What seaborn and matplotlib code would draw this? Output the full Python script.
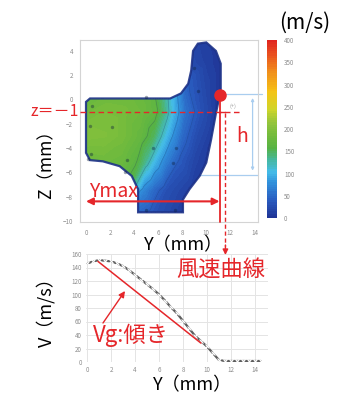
import numpy as np
import matplotlib
matplotlib.use("Agg")
import matplotlib.pyplot as plt
import matplotlib.tri as mtri
import seaborn as sns
from matplotlib.colors import LinearSegmentedColormap
from matplotlib.path import Path
from matplotlib.patches import PathPatch

# ---------------- data ----------------
# nozzle outlet outline in the Y-Z plane (mm)
outline_y = [0.33, 7.0, 7.9, 8.5, 8.75, 8.9, 9.3, 10.0, 10.8, 11.2, 11.2, 10.8, 10.4,
             10.0, 9.45, 8.6, 8.06, 8.06, 4.33, 4.33, 3.8, 2.8, 1.4, 0.33, 0.0, 0.0]
outline_z = [0.08, 0.08, 0.5, 1.3, 2.4, 4.0, 4.6, 4.7, 4.0, 2.95, 0.76, -1.15, -3.3,
             -5.2, -6.3, -7.4, -8.25, -9.3, -9.3, -7.4, -6.3, -5.5, -5.1, -5.0, -4.4, -0.2]

# measured jet velocity at probe positions (Y mm, Z mm, m/s)
probe_y = [-0.2, 2.0, 4.0, 5.5, 6.6, 7.5, 8.2,
           -0.2, 1.5, 3.0, 4.5, 5.8, 6.6, 7.3, 8.2, 9.5, 11.0,
           -0.2, 1.5, 3.0, 4.5, 5.6, 6.4, 7.2, 8.0, 9.2, 10.6,
           -0.2, 1.4, 2.9, 4.2, 5.0, 5.8, 6.6, 7.8, 9.0, 10.2,
           3.8, 4.1, 4.8, 5.6, 6.6, 9.0,
           4.1, 5.5, 7.0, 8.3,
           8.5, 8.7, 9.8, 11.0, 11.4, 10.0, 10.0, 11.4]
probe_z = [0.4, 0.4, 0.4, 0.4, 0.4, 0.4, 1.4,
           -1.0, -1.0, -1.0, -1.0, -1.0, -1.0, -1.0, -1.0, -1.0, -1.0,
           -3.0, -3.0, -3.0, -3.0, -3.0, -3.0, -3.0, -3.0, -3.0, -3.3,
           -5.0, -5.3, -5.7, -5.0, -5.0, -5.0, -5.0, -5.0, -5.0, -5.2,
           -6.6, -7.5, -7.5, -7.5, -7.5, -7.5,
           -9.5, -9.5, -9.5, -9.5,
           3.0, 4.8, 5.0, 4.3, 2.8, 2.8, 1.0, 0.6]
probe_v = [170, 180, 178, 168, 130, 85, 45,
           182, 190, 188, 180, 166, 135, 100, 58, 30, 6,
           198, 196, 188, 172, 150, 115, 80, 50, 25, 6,
           180, 180, 174, 162, 135, 100, 70, 38, 18, 6,
           155, 95, 70, 50, 30, 8,
           48, 32, 18, 6,
           25, 18, 12, 6, 4, 14, 18, 3]

# measuring holes visible on the section
hole_y = [0.5, 0.3, 0.4, 0.2, 2.2, 3.4, 3.2, 5.0, 5.6, 7.5, 7.2, 9.3, 9.0, 5.0, 7.4]
hole_z = [-0.5, -2.2, -4.5, -4.9, -2.3, -5.0, -6.0, 0.2, -4.0, -4.0, -5.2, 0.7, 2.6, -9.1, -9.1]

# velocity profile along Y at z = -1 mm
profile_y = [0.0, 0.5, 1.0, 1.5, 2.0, 2.5, 3.0, 3.5, 4.0, 4.5, 5.0, 5.5, 6.0, 6.5, 7.0,
             7.5, 8.0, 8.5, 9.0, 9.5, 10.0, 10.5, 11.0, 11.5, 12.0, 12.5, 13.0, 13.5,
             14.0, 14.5]
profile_v = [146, 149, 151, 150, 149, 146, 142, 136, 129, 122, 115, 108, 100, 91, 81,
             72, 61, 50, 39, 31, 23, 13, 3, 1.5, 1.5, 1.5, 1.5, 1.5, 1.5, 1.5]

# gradient line Vg
slope_y = [0.9, 9.5]
slope_v = [149, 28]

Y_MAX = 11.1      # outer edge of the jet (mm)
Z_EDGE = 0.35     # z of the outer edge point (mm)
Z_CUT = -1.0      # section height of the profile (mm)

z_ticks = [4, 2, 0, -2, -4, -6, -8, -10]
y_ticks = [0, 2, 4, 6, 8, 10, 12, 14]
cb_ticks = [0, 50, 100, 150, 200, 250, 300, 350, 400]
v_ticks = [0, 20, 40, 60, 80, 100, 120, 140, 160]

# ---------------- style ----------------
sns.set_theme(style="white")
plt.rcParams["font.family"] = ["Noto Sans CJK JP", "DejaVu Sans"]
RED = "#e5262a"
TICK = "#8c8c8c"
LIGHT = "#d4d4d4"

cmap = LinearSegmentedColormap.from_list("flow", [
    (0.0, "#1f3394"), (0.10, "#2a5cc0"), (0.20, "#3192dc"), (0.26, "#45bde8"),
    (0.33, "#46b79a"), (0.39, "#55b245"), (0.46, "#72bb3c"), (0.53, "#8fc33d"),
    (0.61, "#cfd52a"), (0.71, "#f5c315"), (0.83, "#f08a1c"), (0.92, "#e9501f"),
    (1.0, "#e0241f")])

W, H = 353, 395
fig = plt.figure(figsize=(W / 100, H / 100), dpi=100)


def box(l, t, r, b):
    return [l / W, 1 - b / H, (r - l) / W, (b - t) / H]


ax1 = fig.add_axes(box(80, 40, 258, 222))
cax = fig.add_axes(box(267, 40, 277, 218))
ax2 = fig.add_axes(box(86, 254, 268, 362))
ov = fig.add_axes([0, 0, 1, 1])
ov.set_xlim(0, W)
ov.set_ylim(H, 0)
ov.axis("off")
ov.patch.set_alpha(0)
ov.set_zorder(10)

# ---------------- velocity map ----------------
ax1.set_xlim(-0.5, 14.3)
ax1.set_ylim(-10.1, 4.9)
outline = Path(np.column_stack([outline_y + [outline_y[0]], outline_z + [outline_z[0]]]),
               closed=True)
clip = PathPatch(outline, facecolor="none", edgecolor="none")
ax1.add_patch(clip)
tri = mtri.Triangulation(probe_y, probe_z)
cs = ax1.tricontourf(tri, probe_v, levels=np.linspace(0, 400, 81), cmap=cmap,
                     vmin=0, vmax=400, zorder=1)
cs.set_clip_path(clip)
cl = ax1.tricontour(tri, probe_v, levels=[40, 80, 120, 160], colors="#16305f",
                    linewidths=0.5, alpha=0.3, zorder=2)
cl.set_clip_path(clip)
ax1.add_patch(PathPatch(outline, facecolor="none", edgecolor="#1d3288", lw=1.6,
                        alpha=0.9, zorder=3))
ax1.scatter(hole_y, hole_z, s=6, color="#0d1f3c", alpha=0.4, lw=0, zorder=4)

ax1.set_xticks(y_ticks)
ax1.set_yticks(z_ticks)
ax1.tick_params(labelsize=4.5, labelcolor=TICK, length=2, color=LIGHT, pad=3)
for s in ax1.spines.values():
    s.set_color(LIGHT)
    s.set_linewidth(0.8)

# dimension lines of the outlet
ax1.plot([11.6, 14.6], [0.43, 0.43], color="#a9cdef", lw=0.9, clip_on=False, zorder=0.5)
ax1.plot([9.4, 14.3], [-6.2, -6.2], color="#a9cdef", lw=0.9, clip_on=False, zorder=0.5)
ax1.annotate("", xy=(13.85, 0.35), xytext=(13.85, -6.1),
             arrowprops=dict(arrowstyle="<|-|>", color="#a9cdef", lw=0.9,
                             mutation_scale=4), zorder=0.5)
ax1.text(12.2, -0.6, "(+)", fontsize=4, color="#999999", ha="center", va="center")

# colorbar
cb = fig.colorbar(cs, cax=cax, ticks=cb_ticks)
cb.outline.set_visible(False)
cax.tick_params(labelsize=4.5, labelcolor=TICK, length=0, pad=5)

# ---------------- velocity profile ----------------
sns.lineplot(x=profile_y, y=profile_v, ax=ax2, color="#5e5e5e", lw=1.6,
             marker="x", markersize=2.5, markeredgewidth=0.8)
ax2.plot(slope_y, slope_v, color=RED, lw=1.1)
ax2.set_xlim(-0.1, 15.1)
ax2.set_ylim(0, 160)
ax2.set_xticks(y_ticks)
ax2.set_yticks(v_ticks)
ax2.grid(True, color="#e4e4e4", lw=0.7)
ax2.tick_params(labelsize=4.5, labelcolor=TICK, length=0, pad=3)
for s in ax2.spines.values():
    s.set_visible(False)

# ---------------- annotations ----------------
ax1.plot([-0.5, 13.0], [Z_CUT, Z_CUT], color=RED, lw=1.0, ls=(0, (4, 2.5)),
         clip_on=False, zorder=6)
ax1.plot([Y_MAX, Y_MAX], [Z_EDGE, -10.1], color=RED, lw=1.3, clip_on=False, zorder=6)
ax1.plot([Y_MAX, Y_MAX + 0.45], [Z_CUT, Z_CUT], color=RED, lw=1.0, clip_on=False, zorder=6)
ax1.plot([Y_MAX], [Z_EDGE], "o", ms=8, color=RED, clip_on=False, zorder=7)
ax1.annotate("", xy=(0.0, -8.4), xytext=(Y_MAX, -8.4),
             arrowprops=dict(arrowstyle="<|-|>", color=RED, lw=1.5, mutation_scale=10,
                             shrinkA=0, shrinkB=0), zorder=7)

xd = 86 + (Y_MAX + 0.45) * 169 / 14
ov.plot([xd, xd], [113, 246], color=RED, lw=1.0, ls=(0, (3, 2)))
ov.annotate("", xy=(xd, 255), xytext=(xd, 245),
            arrowprops=dict(arrowstyle="-|>", color=RED, lw=1.0, mutation_scale=8,
                            shrinkA=0, shrinkB=0))

ov.text(79, 112, "z＝－1", ha="right", va="center", color=RED, fontsize=11.5)
ov.text(89, 197, "Ymax", ha="left", va="baseline", color=RED, fontsize=14)
ov.text(242, 137, "h", ha="center", va="center", color=RED, fontsize=14)
ov.text(221, 269, "風速曲線", ha="center", va="center", color=RED, fontsize=16)
ov.text(131, 335, "Vg:傾き", ha="center", va="center", color=RED, fontsize=16)
ov.annotate("", xy=(125, 291), xytext=(103, 323),
            arrowprops=dict(arrowstyle="-|>", color=RED, lw=1.0, mutation_scale=9,
                            shrinkA=0, shrinkB=0))

ov.text(305, 23, "(m/s)", ha="center", va="center", color="black", fontsize=15)
ov.text(46, 160, "Z（mm）", ha="center", va="center", rotation=90, color="black", fontsize=12.5)
ov.text(184, 245, "Y（mm）", ha="center", va="center", color="black", fontsize=13)
ov.text(46, 308, "V（m/s）", ha="center", va="center", rotation=90, color="black", fontsize=13)
ov.text(193, 385, "Y（mm）", ha="center", va="center", color="black", fontsize=13)

fig.savefig("out.png", dpi=100)
